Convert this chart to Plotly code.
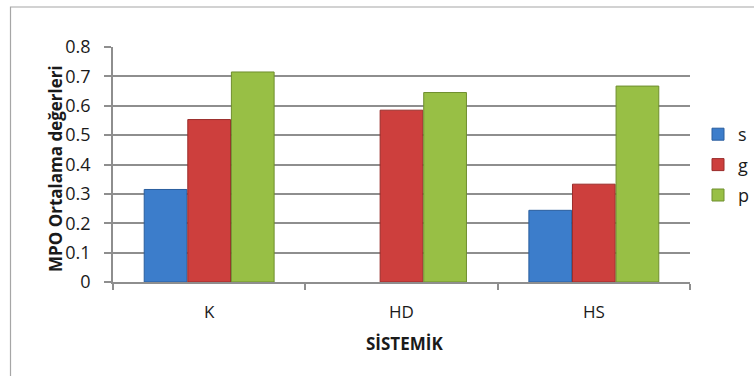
import plotly.graph_objects as go

categories = ["K", "HD", "HS"]
series_names = ["s", "g", "p"]
s_values = [0.315, None, 0.244]
g_values = [0.553, 0.585, 0.333]
p_values = [0.715, 0.645, 0.667]
y_ticks = [0, 0.1, 0.2, 0.3, 0.4, 0.5, 0.6, 0.7, 0.8]
y_tick_labels = ["0", "0.1", "0.2", "0.3", "0.4", "0.5", "0.6", "0.7", "0.8"]
x_title = "SİSTEMİK"
y_title = "MPO Ortalama değerleri"

colors = ["#3C7DCB", "#CD3F3D", "#98BF45"]
edge_colors = ["#2A5E9E", "#9A2C2A", "#6F8F2E"]

FONT = "Open Sans"
W, H = 754, 376
L, R, T, B = 113, 64, 47, 94
pw, ph = W - L - R, H - T - B

def px_x(x):
    return (x - L) / pw

def px_y(y):
    return (H - B - y) / ph

fig = go.Figure()
for name, vals, c, ec in zip(series_names, [s_values, g_values, p_values], colors, edge_colors):
    fig.add_trace(go.Bar(
        x=categories, y=vals, name=name, legendgroup=name,
        marker=dict(color=c, line=dict(color=ec, width=1)),
    ))

fig.update_layout(
    width=W, height=H,
    margin=dict(l=L, r=R, t=T, b=B, autoexpand=False),
    paper_bgcolor="white", plot_bgcolor="white",
    font=dict(family=FONT, size=18, color="#1a1a1a"),
    barmode="group", bargap=0.32, bargroupgap=0.02,
    showlegend=True,
    legend=dict(x=px_x(698), xanchor="left", y=px_y(165), yanchor="middle",
                font=dict(size=18), tracegroupgap=4, bgcolor="rgba(0,0,0,0)",
                borderwidth=0),
    xaxis=dict(showline=True, linecolor="#8e8e8e", linewidth=1.5,
               ticks="outside", tickson="boundaries", ticklen=6, tickcolor="#8e8e8e", tickwidth=1.5,
               ticklabelstandoff=14, showgrid=False, tickfont=dict(size=17)),
    yaxis=dict(range=[0, 0.8], tickvals=y_ticks, ticktext=y_tick_labels,
               showline=True, linecolor="#8e8e8e", linewidth=1.5,
               ticks="outside", ticklen=7, tickcolor="#8e8e8e", tickwidth=1.5,
               showgrid=True, gridcolor="#8e8e8e", gridwidth=1.5,
               ticklabelstandoff=10, zeroline=False, tickfont=dict(size=18)),
    annotations=[
        dict(text="<b>" + y_title + "</b>", xref="paper", yref="paper",
             x=px_x(55), y=px_y(169), textangle=-90, showarrow=False,
             xanchor="center", yanchor="middle", font=dict(size=17)),
        dict(text="<b>" + x_title + "</b>", xref="paper", yref="paper",
             x=px_x(405), y=px_y(343), showarrow=False,
             xanchor="center", yanchor="middle", font=dict(size=17)),
    ],
    shapes=[dict(type="rect", xref="paper", yref="paper",
                 x0=px_x(10.5), x1=px_x(780), y0=px_y(400), y1=px_y(7),
                 line=dict(color="#a6a6a6", width=1.2), fillcolor="rgba(0,0,0,0)", layer="below")],
)

fig.write_html("out.html")
